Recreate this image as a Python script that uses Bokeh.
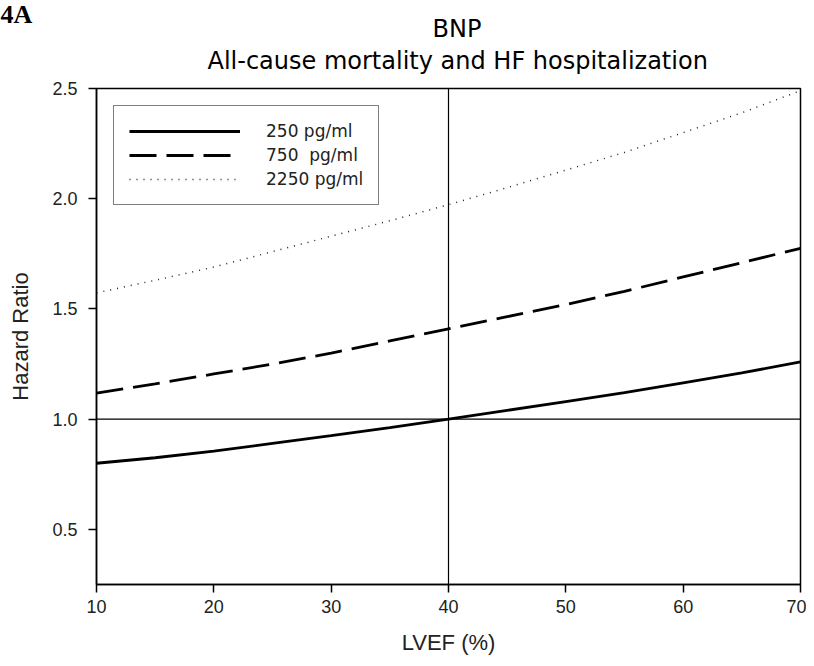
from bokeh.plotting import figure
from bokeh.models import Range1d, FixedTicker, PrintfTickFormatter, Span, Legend, LegendItem, Title
from bokeh.embed import file_html
from bokeh.resources import INLINE

# ---- data ----
lvef = [10, 15, 20, 25, 30, 35, 40, 45, 50, 55, 60, 65, 70]
hr_250 = [0.80, 0.825, 0.855, 0.89, 0.925, 0.962, 1.0, 1.04, 1.08, 1.12, 1.165, 1.21, 1.26]
hr_750 = [1.118, 1.16, 1.205, 1.25, 1.30, 1.355, 1.41, 1.465, 1.52, 1.58, 1.645, 1.71, 1.775]
hr_2250 = [1.573, 1.63, 1.69, 1.76, 1.83, 1.90, 1.973, 2.05, 2.13, 2.21, 2.30, 2.39, 2.49]
series_labels = ["250 pg/ml", "750  pg/ml", "2250 pg/ml"]
x_ticks = [10, 20, 30, 40, 50, 60, 70]
y_ticks = [0.5, 1.0, 1.5, 2.0, 2.5]
ref_hr = 1.0
ref_lvef = 40
title_top = "BNP"
title_sub = "All-cause mortality and HF hospitalization"
x_label = "LVEF (%)"
y_label = "Hazard Ratio"
panel_tag = "4A"

FONT = "Liberation Sans"
TFONT = "DejaVu Sans"

p = figure(width=806, height=658, output_backend="svg", toolbar_location=None,
           x_range=Range1d(10, 70), y_range=Range1d(0.25, 2.5),
           min_border_left=96, min_border_right=6, min_border_top=88, min_border_bottom=74)

# stacked titles: first added sits nearest to the frame
p.add_layout(Title(text=title_sub, align="left", offset=111, vertical_align="bottom",
                   text_font=TFONT, text_font_size="24px", text_font_style="normal",
                   text_color="black", standoff=28), "above")
p.add_layout(Title(text=title_top, align="left", offset=336, vertical_align="bottom",
                   text_font=TFONT, text_font_size="24px", text_font_style="normal",
                   text_color="black", standoff=-25), "above")
p.add_layout(Title(text=panel_tag, align="left", offset=-96, vertical_align="bottom",
                   text_font="Liberation Serif", text_font_size="26px", text_font_style="bold",
                   text_color="black", standoff=-6), "above")

p.xgrid.visible = False
p.ygrid.visible = False
p.outline_line_color = "black"
p.outline_line_width = 1.5
p.outline_line_alpha = 1.0
p.background_fill_color = "white"
p.border_fill_color = "white"

for ax in (p.xaxis[0], p.yaxis[0]):
    ax.axis_line_color = "black"
    ax.axis_line_width = 1.5
    ax.major_tick_line_color = "black"
    ax.major_tick_line_width = 1.5
    ax.major_tick_in = 0
    ax.major_tick_out = 8
    ax.minor_tick_line_color = None
    ax.major_label_text_font = FONT
    ax.major_label_text_font_size = "18px"
    ax.major_label_text_color = "#222222"
    ax.axis_label_text_font = FONT
    ax.axis_label_text_font_size = "22px"
    ax.axis_label_text_font_style = "normal"
    ax.axis_label_text_color = "#222222"

p.xaxis[0].ticker = FixedTicker(ticks=x_ticks)
p.xaxis[0].formatter = PrintfTickFormatter(format="%d")
p.xaxis[0].major_label_standoff = 7
p.xaxis[0].axis_label = x_label
p.xaxis[0].axis_label_standoff = 14

p.yaxis[0].ticker = FixedTicker(ticks=y_ticks)
p.yaxis[0].formatter = PrintfTickFormatter(format="%.1f")
p.yaxis[0].major_label_standoff = 11
p.yaxis[0].axis_label = y_label
p.yaxis[0].axis_label_standoff = 16

p.add_layout(Span(location=ref_hr, dimension="width", line_color="black", line_width=1.2))
p.add_layout(Span(location=ref_lvef, dimension="height", line_color="black", line_width=1.2))

r1 = p.line(lvef, hr_250, line_color="black", line_width=2.8)
r2 = p.line(lvef, hr_750, line_color="black", line_width=2.8, line_dash="27 10")
r3 = p.line(lvef, hr_2250, line_color="#222222", line_width=1.5, line_dash="1 6")

legend = Legend(items=[LegendItem(label=series_labels[0], renderers=[r1]),
                       LegendItem(label=series_labels[1], renderers=[r2]),
                       LegendItem(label=series_labels[2], renderers=[r3])],
                location="top_left", margin=17, padding=15, spacing=4,
                glyph_width=111, glyph_height=20, label_height=20, label_standoff=26,
                label_text_font=TFONT, label_text_font_size="17px", label_text_color="#222222",
                border_line_color="black", border_line_width=1.5,
                background_fill_color="white", background_fill_alpha=1.0)
p.add_layout(legend)

open("out.html", "w").write(file_html(p, INLINE))
